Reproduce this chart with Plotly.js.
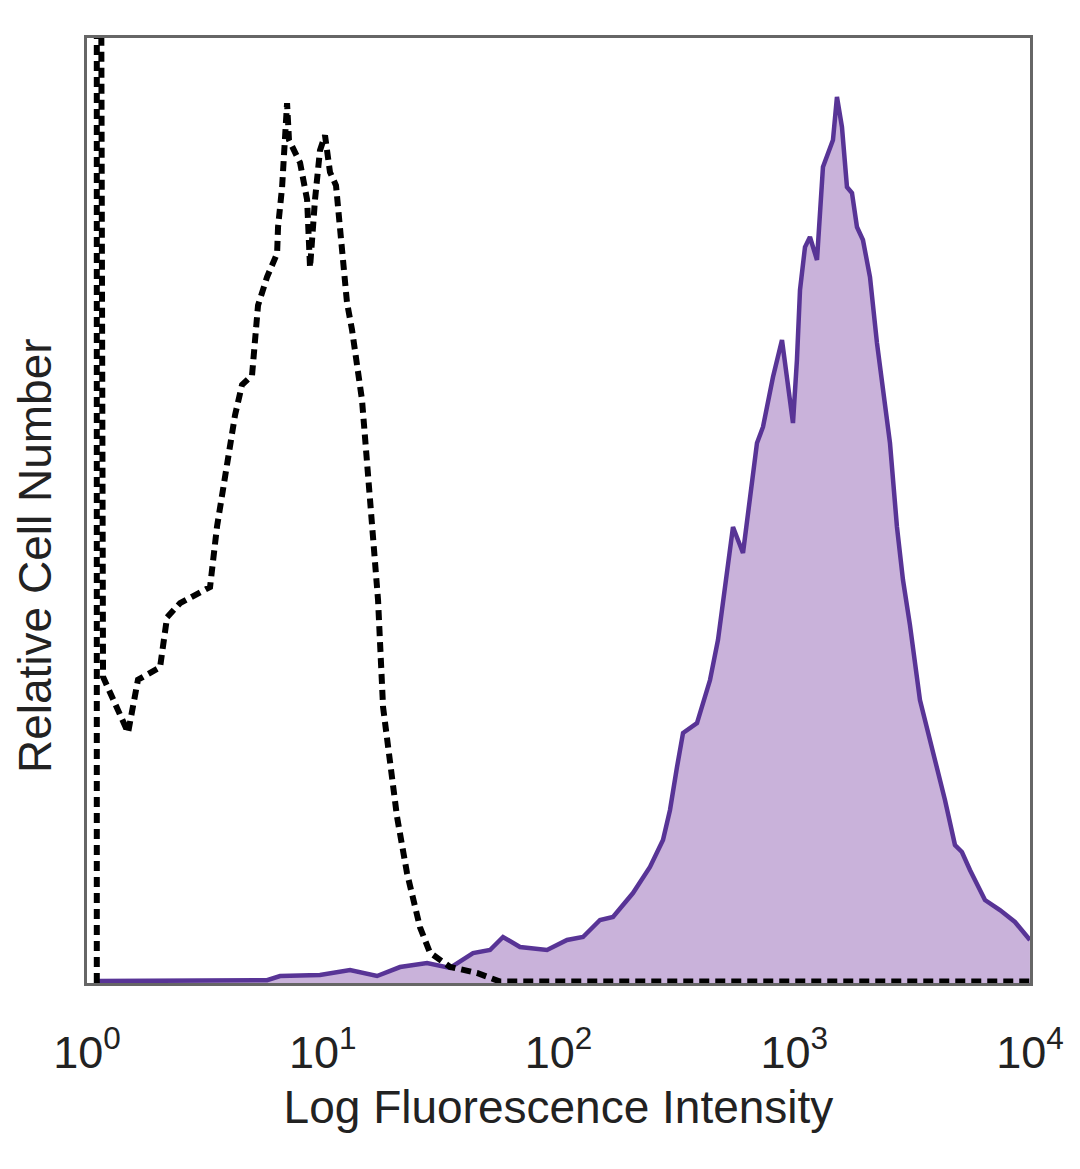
<!DOCTYPE html>
<html>
<head>
<meta charset="utf-8">
<script src="https://cdn.plot.ly/plotly-3.0.1.min.js"></script>
<style>html,body{margin:0;padding:0;background:#fff;}#chart{width:1080px;height:1169px;}</style>
</head>
<body>
<div id="chart"></div>
<script>
// Isotype control (dashed) histogram: intensity vs relative count (% of plot height)
var controlX = [1.10, 1.10, 1.147, 1.169, 1.493, 1.645, 2.04, 2.185, 2.48, 3.325, 3.559, 3.85, 4.245, 4.545, 5.01, 5.313, 5.80, 6.40, 6.46, 6.72, 7.055, 7.19, 8.01, 8.58, 8.83, 9.27, 9.73, 10.22, 10.73, 11.38, 12.07, 12.67, 13.31, 14.67, 15.87, 17.16, 18.02, 19.29, 20.65, 22.78, 25.85, 28.50, 34.66, 45.1, 56.5, 10000];
var controlY = [0, 110, 110, 32.4, 26.5, 32.1, 33.4, 38.7, 40.2, 41.9, 48.3, 53.2, 60.1, 63.3, 64.3, 71.7, 74.7, 77.2, 80.0, 84.2, 93.1, 89.2, 86.8, 82.9, 75.7, 82.9, 88.1, 89.7, 85.8, 84.4, 77.9, 72.0, 69.1, 61.7, 51.1, 40.5, 29.2, 22.9, 17.6, 11.6, 5.9, 3.2, 1.7, 1.06, 0.15, 0.15];

// Stained sample (filled purple) histogram
var stainedX = [1.10, 5.80, 6.59, 9.73, 13.05, 16.99, 21.27, 27.69, 34.66, 43.39, 51.22, 58.16, 68.65, 89.4, 108.7, 127.0, 150.0, 170.3, 207.0, 244.4, 277.5, 297.2, 318.3, 337.5, 386.8, 410.3, 439.3, 474.9, 508.5, 549.8, 606.3, 695.1, 737.0, 812.7, 887.3, 987.8, 1027, 1058, 1111, 1166, 1249, 1286, 1324, 1460, 1518, 1594, 1674, 1758, 1846, 1957, 2096, 2244, 2379, 2548, 2728, 2893, 3097, 3415, 3954, 4360, 4808, 5145, 5566, 6445, 7459, 8638, 10000];
var stainedY = [0.2, 0.3, 0.74, 0.85, 1.38, 0.74, 1.69, 2.12, 1.59, 3.17, 3.49, 4.87, 3.81, 3.49, 4.55, 4.87, 6.67, 6.98, 9.52, 12.28, 15.13, 18.31, 22.86, 26.46, 27.51, 29.63, 32.06, 36.30, 41.59, 48.25, 45.50, 57.14, 58.84, 64.13, 68.04, 59.26, 65.93, 73.33, 77.88, 78.94, 76.51, 81.80, 86.35, 89.21, 93.76, 90.58, 84.23, 83.60, 80.0, 78.62, 74.71, 67.72, 62.43, 57.14, 48.25, 42.65, 37.88, 29.95, 23.60, 19.37, 14.60, 13.86, 11.96, 8.78, 7.72, 6.46, 4.55];

var tickVals = [1, 10, 100, 1000, 10000];
var tickText = ['10<sup>0</sup>', '10<sup>1</sup>', '10<sup>2</sup>', '10<sup>3</sup>', '10<sup>4</sup>'];
var xTitle = 'Log Fluorescence Intensity';
var yTitle = 'Relative Cell Number';

var FONT = '"Liberation Sans", Arial, sans-serif';

var traces = [
  {
    x: stainedX, y: stainedY, type: 'scatter', mode: 'lines',
    fill: 'tozeroy', fillcolor: 'rgb(201,178,218)',
    line: {color: 'rgb(88,52,150)', width: 4.5},
    showlegend: false, hoverinfo: 'skip'
  },
  {
    x: controlX, y: controlY, type: 'scatter', mode: 'lines',
    line: {color: '#000', width: 6, dash: '10px,6px'},
    showlegend: false, hoverinfo: 'skip'
  }
];

var layout = {
  width: 1080, height: 1169,
  margin: {l: 87, r: 50, t: 38, b: 186},
  paper_bgcolor: '#fff', plot_bgcolor: '#fff',
  font: {family: FONT, color: '#222', size: 44},
  showlegend: false,
  xaxis: {
    type: 'log', range: [-0.0002, 4.0002],
    tickmode: 'array', tickvals: tickVals, ticktext: tickText,
    showgrid: false, zeroline: false,
    showline: true, mirror: true, linecolor: '#666', linewidth: 3,
    ticks: '', ticklabelstandoff: 28,
    tickfont: {family: FONT, size: 45, color: '#222'},
    title: {text: xTitle, font: {family: FONT, size: 46, color: '#222'}, standoff: 14}
  },
  yaxis: {
    range: [0, 100],
    showticklabels: false, ticks: '',
    showgrid: false, zeroline: false,
    showline: true, mirror: true, linecolor: '#666', linewidth: 3
  },
  annotations: [{
    text: yTitle, textangle: -90,
    xref: 'paper', yref: 'paper', x: -0.055, y: 0.452,
    xanchor: 'center', yanchor: 'middle', showarrow: false,
    font: {family: FONT, size: 46, color: '#222'}
  }]
};

Plotly.newPlot('chart', traces, layout, {displayModeBar: false, staticPlot: true});
</script>
</body>
</html>
